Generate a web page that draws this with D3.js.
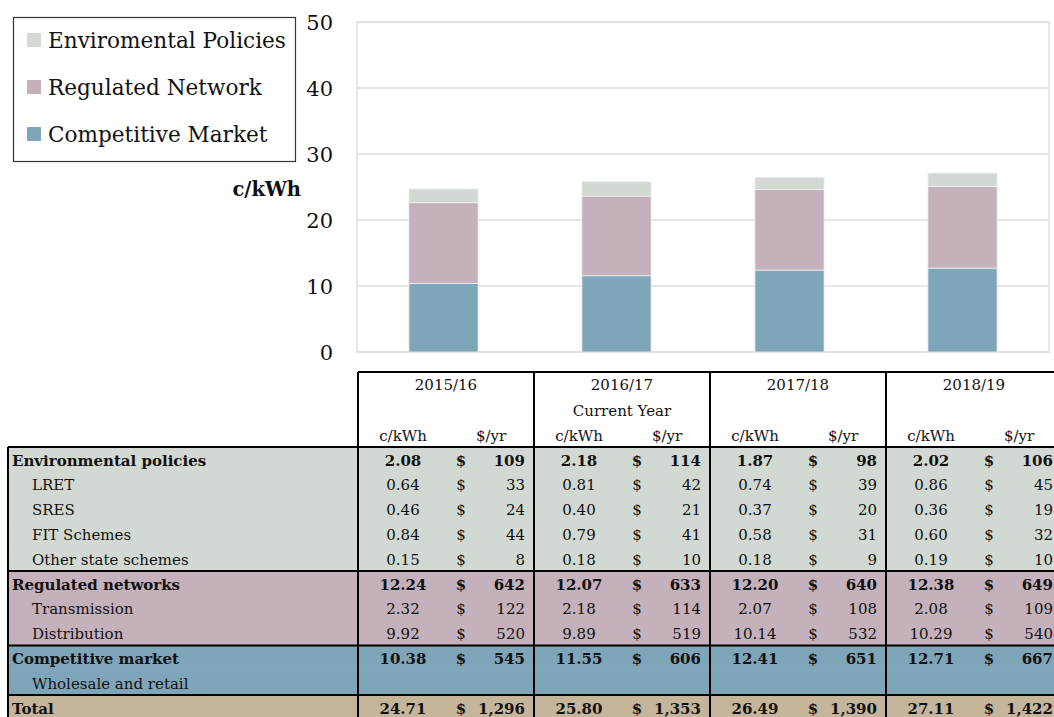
<!DOCTYPE html>
<html>
<head>
<meta charset="utf-8">
<script src="https://cdn.jsdelivr.net/npm/d3@7"></script>
<style>
    body { margin: 0; background: #fff; }
    svg text { font-family: "DejaVu Serif", "Liberation Serif", serif; fill: #111; }
</style>
</head>
<body>
<div id="chart"></div>
<script>

// chart data (c/kWh)
let years = ["2015/16", "2016/17", "2017/18", "2018/19"];
let yearNotes = ["", "Current Year", "", ""];
let competitive = [10.38, 11.55, 12.41, 12.71];
let regulated = [12.24, 12.07, 12.20, 12.38];
let environmental = [2.08, 2.18, 1.87, 2.02];
let yTicks = [0, 10, 20, 30, 40, 50];

// legend, top to bottom
let legendLabels = ["Enviromental Policies", "Regulated Network", "Competitive Market"];

// table rows
let rowLabels = ["Environmental policies", "LRET", "SRES", "FIT Schemes", "Other state schemes",
    "Regulated networks", "Transmission", "Distribution",
    "Competitive market", "Wholesale and retail", "Total"];
let rowGroups = ["env", "env", "env", "env", "env", "reg", "reg", "reg", "comp", "comp", "total"];
let rowBold = [true, false, false, false, false, true, false, false, true, false, true];
let rowCents = [
    [2.08, 2.18, 1.87, 2.02],
    [0.64, 0.81, 0.74, 0.86],
    [0.46, 0.40, 0.37, 0.36],
    [0.84, 0.79, 0.58, 0.60],
    [0.15, 0.18, 0.18, 0.19],
    [12.24, 12.07, 12.20, 12.38],
    [2.32, 2.18, 2.07, 2.08],
    [9.92, 9.89, 10.14, 10.29],
    [10.38, 11.55, 12.41, 12.71],
    null,
    [24.71, 25.80, 26.49, 27.11]
];
let rowDollars = [
    [109, 114, 98, 106],
    [33, 42, 39, 45],
    [24, 21, 20, 19],
    [44, 41, 31, 32],
    [8, 10, 9, 10],
    [642, 633, 640, 649],
    [122, 114, 108, 109],
    [520, 519, 532, 540],
    [545, 606, 651, 667],
    null,
    [1296, 1353, 1390, 1422]
];

let colors = {env: "#d2d9d2", reg: "#c4b1bb", comp: "#7fa5b9", total: "#c5b59b"};

let width = 1054, height = 717;
let svg = d3.select("#chart").append("svg")
    .attr("width", width)
    .attr("height", height);

// ---------- bar chart ----------
let plot = {left: 357, right: 1049, top: 22, bottom: 352};

let x = d3.scaleBand()
    .domain(years)
    .range([plot.left, plot.right])
    .paddingInner(0.6)
    .paddingOuter(0.3);

let y = d3.scaleLinear()
    .domain([0, 50])
    .range([plot.bottom, plot.top]);

// gridlines
svg.append("g")
    .selectAll("line")
    .data(yTicks)
    .enter().append("line")
    .attr("x1", plot.left)
    .attr("x2", plot.right)
    .attr("y1", d => y(d))
    .attr("y2", d => y(d))
    .attr("stroke", "#dedede")
    .attr("stroke-width", 1.5);

// plot frame
svg.append("rect")
    .attr("x", plot.left)
    .attr("y", plot.top)
    .attr("width", plot.right - plot.left)
    .attr("height", plot.bottom - plot.top)
    .attr("fill", "none")
    .attr("stroke", "#dedede")
    .attr("stroke-width", 1.5);

// stacked bars
let stackData = years.map((yr, i) => ({year: yr, comp: competitive[i], reg: regulated[i], env: environmental[i]}));
let series = d3.stack().keys(["comp", "reg", "env"])(stackData);

svg.append("g")
    .selectAll("g")
    .data(series)
    .enter().append("g")
    .attr("fill", d => colors[d.key])
    .selectAll("rect")
    .data(d => d)
    .enter().append("rect")
    .attr("x", d => x(d.data.year))
    .attr("width", x.bandwidth())
    .attr("y", d => y(d[1]))
    .attr("height", d => y(d[0]) - y(d[1]))
    .attr("stroke", "#eef0f0")
    .attr("stroke-width", 0.8);

// y axis labels
let yAxis = d3.axisLeft(y).tickValues(yTicks).tickSize(0).tickPadding(24);
let yAxisG = svg.append("g")
    .attr("transform", `translate(${plot.left},0)`)
    .call(yAxis);
yAxisG.select(".domain").remove();
yAxisG.selectAll("text")
    .style("font-family", "'DejaVu Serif', serif")
    .style("font-size", "21px")
    .attr("fill", "#111")
    .attr("dy", "0.35em");

svg.append("text")
    .attr("x", 301)
    .attr("y", 189)
    .attr("dy", "0.35em")
    .attr("text-anchor", "end")
    .style("font-size", "19.5px")
    .style("font-weight", "bold")
    .text("c/kWh");

// legend
let legend = svg.append("g");
legend.append("rect")
    .attr("x", 13.5)
    .attr("y", 17.5)
    .attr("width", 282)
    .attr("height", 144)
    .attr("fill", "#fff")
    .attr("stroke", "#333")
    .attr("stroke-width", 1.2);

let legendKeys = ["env", "reg", "comp"];
let legendItem = legend.selectAll(".item")
    .data(legendLabels)
    .enter().append("g")
    .attr("class", "item")
    .attr("transform", (d, i) => `translate(27, ${40 + i * 47})`);
legendItem.append("rect")
    .attr("x", 0)
    .attr("y", -7)
    .attr("width", 14)
    .attr("height", 14)
    .attr("fill", (d, i) => colors[legendKeys[i]]);
legendItem.append("text")
    .attr("x", 21)
    .attr("dy", "0.36em")
    .style("font-size", "21.6px")
    .text(d => d);

// ---------- table ----------
let tableTop = 372, headerBottom = 447, rowH = 24.8;
let colStart = 358, colW = 176;

let col = d3.scaleBand()
    .domain(years)
    .range([colStart, colStart + colW * years.length]);

let rowY = d3.scaleBand()
    .domain(d3.range(rowLabels.length))
    .range([headerBottom, headerBottom + rowH * rowLabels.length]);

let fmtCents = d3.format(".2f");
let fmtDollars = d3.format(",");

// row backgrounds
svg.append("g")
    .selectAll("rect")
    .data(rowLabels)
    .enter().append("rect")
    .attr("x", 8)
    .attr("y", (d, i) => rowY(i))
    .attr("width", width - 8)
    .attr("height", rowH + 0.5)
    .attr("fill", (d, i) => colors[rowGroups[i]]);

// header text
let header = svg.append("g").style("font-size", "15px");
header.selectAll(".yr")
    .data(years)
    .enter().append("text")
    .attr("x", d => col(d) + colW / 2)
    .attr("y", 385)
    .attr("dy", "0.35em")
    .attr("text-anchor", "middle")
    .text(d => d);
header.selectAll(".note")
    .data(yearNotes)
    .enter().append("text")
    .attr("x", (d, i) => col(years[i]) + colW / 2)
    .attr("y", 411)
    .attr("dy", "0.35em")
    .attr("text-anchor", "middle")
    .text(d => d);
header.selectAll(".unitC")
    .data(years)
    .enter().append("text")
    .attr("x", d => col(d) + 45)
    .attr("y", 436)
    .attr("dy", "0.35em")
    .attr("text-anchor", "middle")
    .text("c/kWh");
header.selectAll(".unitD")
    .data(years)
    .enter().append("text")
    .attr("x", d => col(d) + 133)
    .attr("y", 436)
    .attr("dy", "0.35em")
    .attr("text-anchor", "middle")
    .text("$/yr");

// body text
let body = svg.append("g").style("font-size", "15px");
let rows = body.selectAll(".row")
    .data(rowLabels)
    .enter().append("g")
    .attr("class", "row")
    .attr("transform", (d, i) => `translate(0, ${rowY(i) + rowH / 2 + 1})`)
    .style("font-weight", (d, i) => rowBold[i] ? "bold" : "normal");

rows.append("text")
    .attr("x", (d, i) => rowBold[i] ? 12 : 32)
    .attr("dy", "0.35em")
    .text(d => d);

rows.each(function(d, i) {
    if (!rowCents[i]) return;
    let g = d3.select(this);
    years.forEach((yr, j) => {
        g.append("text")
            .attr("x", col(yr) + 45)
            .attr("dy", "0.35em")
            .attr("text-anchor", "middle")
            .text(fmtCents(rowCents[i][j]));
        g.append("text")
            .attr("x", col(yr) + 103)
            .attr("dy", "0.35em")
            .attr("text-anchor", "middle")
            .text("$");
        g.append("text")
            .attr("x", col(yr) + 167)
            .attr("dy", "0.35em")
            .attr("text-anchor", "end")
            .text(fmtDollars(rowDollars[i][j]));
    });
});

// table rules
let rules = svg.append("g").attr("stroke", "#000").attr("stroke-width", 2);
rules.append("line")
    .attr("x1", colStart).attr("x2", width)
    .attr("y1", tableTop).attr("y2", tableTop);
rules.append("line")
    .attr("x1", 8).attr("x2", width)
    .attr("y1", headerBottom).attr("y2", headerBottom);
// group separators
[5, 8, 10].forEach(k => {
    rules.append("line")
        .attr("x1", 8).attr("x2", width)
        .attr("y1", rowY(k)).attr("y2", rowY(k));
});
rules.append("line")
    .attr("x1", 8).attr("x2", 8)
    .attr("y1", headerBottom).attr("y2", height);
rules.selectAll(".vcol")
    .data(years)
    .enter().append("line")
    .attr("x1", d => col(d)).attr("x2", d => col(d))
    .attr("y1", tableTop).attr("y2", height);

</script>
</body>
</html>
